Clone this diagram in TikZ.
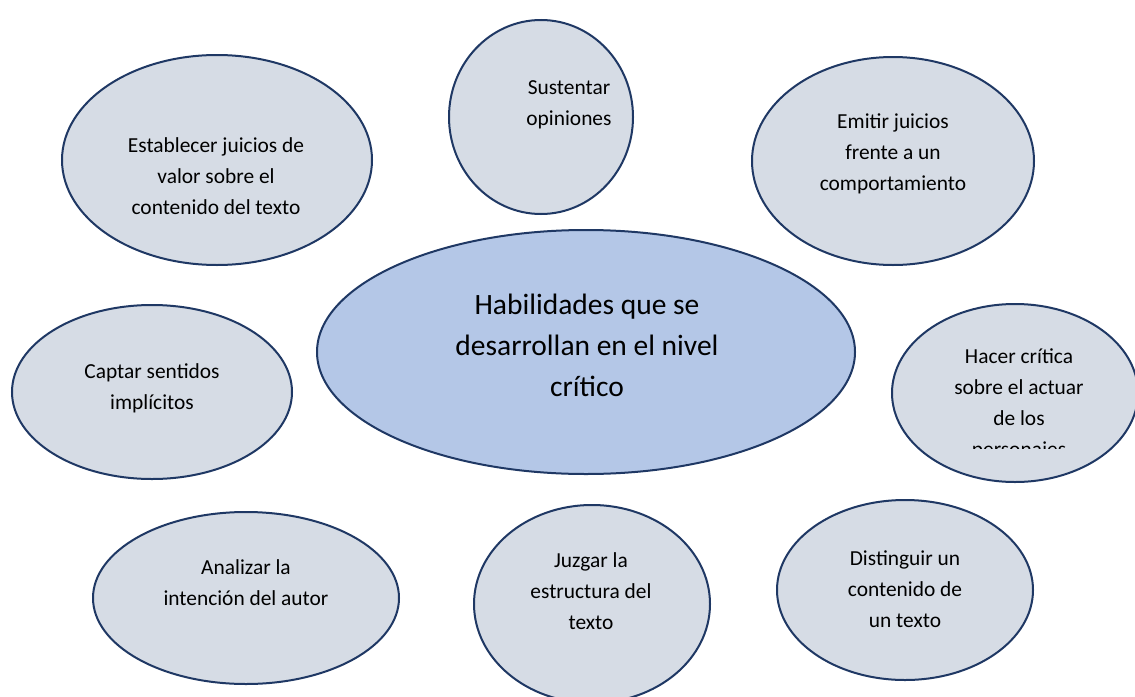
\documentclass[tikz,border=0pt]{standalone}
\usepackage{fontspec}
\setmainfont{Carlito}
\usetikzlibrary{shapes.geometric}
\definecolor{navy}{HTML}{1F3864}
\definecolor{pale}{HTML}{D6DCE5}
\definecolor{mid}{HTML}{B4C7E7}
\tikzset{
  bubble/.style={ellipse, draw=navy, line width=2pt, fill=pale, inner sep=0pt},
  core/.style={bubble, fill=mid},
  txt/.style={align=center, font=\fontsize{21.4}{31}\selectfont, text=black, inner sep=0pt},
  bigtxt/.style={align=center, font=\fontsize{29.5}{41}\selectfont, text=black, inner sep=0pt}
}
\begin{document}
\begin{tikzpicture}[x=1pt,y=-1pt]
\useasboundingbox[fill=white] (0,0) rectangle (1135,696);
% ellipses
\node[bubble, minimum width=184pt, minimum height=194pt] (e1) at (541,117) {};
\node[bubble, minimum width=282pt, minimum height=208pt] (e2) at (893,161) {};
\node[bubble, minimum width=310pt, minimum height=210pt] (e3) at (217,160) {};
\node[core, minimum width=538pt, minimum height=244pt] (e0) at (586,352) {};
\node[bubble, minimum width=280pt, minimum height=174pt] (e4) at (152,392) {};
\node[bubble, minimum width=246pt, minimum height=178pt] (e5) at (1015,393) {};
\node[bubble, minimum width=306pt, minimum height=172pt] (e6) at (246,598) {};
\node[bubble, minimum width=236pt, minimum height=198pt] (e7) at (592,604) {};
\node[bubble, minimum width=256pt, minimum height=180pt] (e8) at (905,590) {};
% texts
\node[txt] (t1) at (569,105) {Sustentar\\opiniones};
\node[txt] (t2) at (893,154) {Emitir juicios\\frente a un\\comportamiento};
\node[txt] (t3) at (216,176) {Establecer juicios de\\valor sobre el\\contenido del texto};
\node[bigtxt] (t0) at (587,345) {Habilidades que se\\desarrollan en el nivel\\crítico};
\node[txt] (t4) at (152,388) {Captar sentidos\\implícitos};
\begin{scope}
\clip (880,300) rectangle (1135,448);
\node[txt] (t5) at (1019,404) {Hacer crítica\\sobre el actuar\\de los\\personajes};
\end{scope}
\node[txt] (t6) at (246,583) {Analizar la\\intención del autor};
\node[txt] (t7) at (591,591) {Juzgar la\\estructura del\\texto};
\node[txt] (t8) at (905,589) {Distinguir un\\contenido de\\un texto};
\end{tikzpicture}
\end{document}
